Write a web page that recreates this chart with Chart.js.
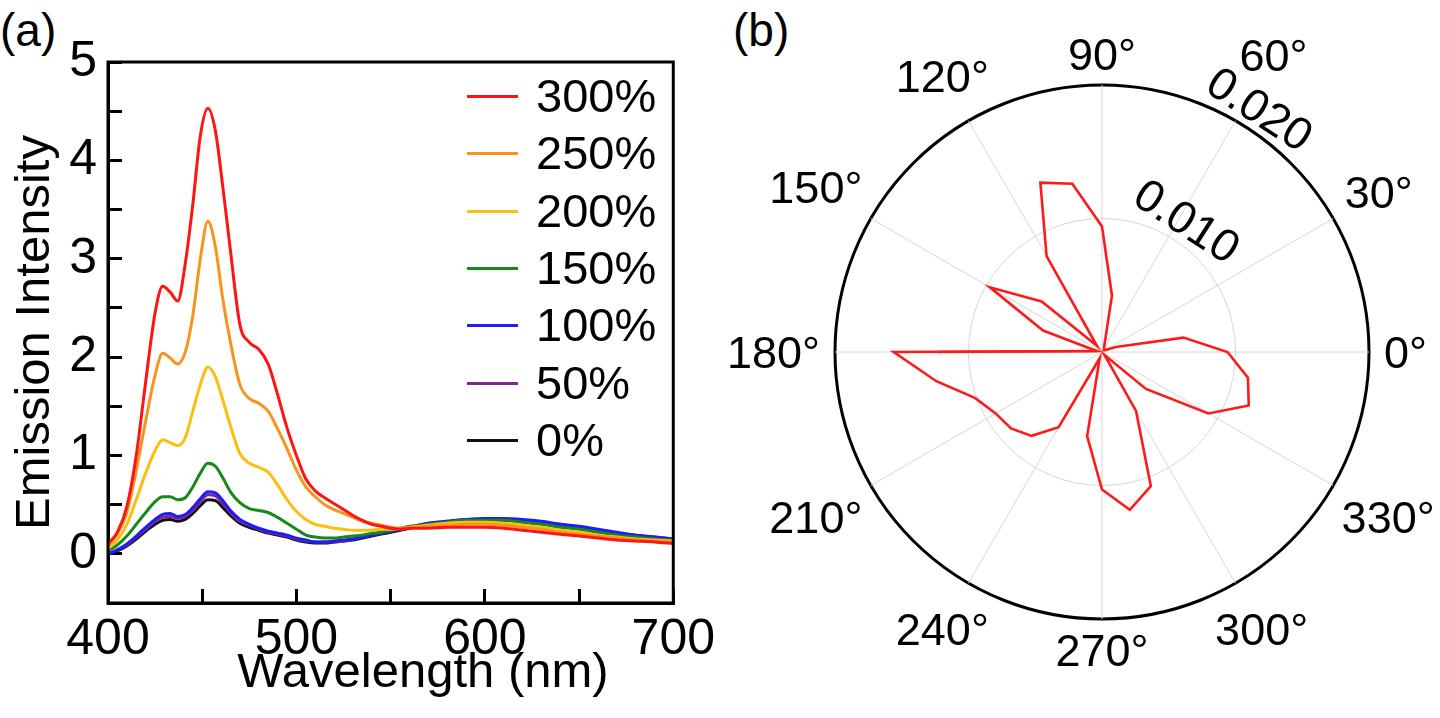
<!DOCTYPE html>
<html>
<head>
<meta charset="utf-8">
<script src="https://cdn.jsdelivr.net/npm/chart.js@4.4.0/dist/chart.umd.min.js"></script>
<style>
    html, body { margin: 0; padding: 0; background: #fff; overflow: hidden; }
    body { width: 1440px; height: 718px; position: relative; font-family: "Liberation Sans", Arial, Helvetica, sans-serif; color: #000; }
    canvas { position: absolute; top: 0; }
    #spectraChart { left: 0; }
    #polarChart { left: 720px; }
    .panel-tag { position: absolute; top: 7px; font-size: 46px; line-height: 46px; }
    #xTitle { position: absolute; left: 173px; width: 500px; top: 641px; text-align: center; font-size: 49px; line-height: 59px; white-space: nowrap; }
    .legend-row { position: absolute; left: 467px; height: 50px; line-height: 50px; font-size: 47px; white-space: nowrap; }
    .legend-row span.swatch { position: absolute; left: 0; top: 24px; width: 51px; height: 3px; }
    .legend-row span.text { position: absolute; left: 69px; top: 0; }
</style>
</head>
<body>
<div class="panel-tag" style="left:0px">(a)</div>
<div class="panel-tag" style="left:733px">(b)</div>
<canvas id="spectraChart" width="736" height="718"></canvas>
<canvas id="polarChart" width="720" height="718"></canvas>
<div id="xTitle">Wavelength (nm)</div>
<div id="legendBox"></div>
<script>
// ---- panel (a): emission spectra ----
var wavelengths = [400, 405, 410, 415, 420, 425,
    429, 433, 437, 441, 445, 449, 453, 457, 461, 465,
    470, 475, 480, 485, 490, 495, 500, 505, 510, 515, 520, 525, 530, 535, 540, 545, 550, 555, 560,
    570, 580, 590, 600, 610, 620, 630, 640, 650, 660, 670, 680, 690, 700];

var intensity300 = [0.10, 0.22, 0.48, 1.00, 1.75, 2.45,
    2.72, 2.66, 2.57, 2.95, 3.55, 4.25, 4.53, 4.30, 3.72, 3.08,
    2.33, 2.15, 2.08, 1.93, 1.62, 1.28, 1.00, 0.76, 0.64, 0.57, 0.51, 0.45, 0.39, 0.34, 0.30, 0.28, 0.26, 0.25, 0.26,
    0.26, 0.27, 0.27, 0.27, 0.26, 0.24, 0.22, 0.20, 0.18, 0.16, 0.14, 0.13, 0.12, 0.105];
var intensity250 = [0.08, 0.20, 0.42, 0.85, 1.35, 1.82,
    2.04, 1.99, 1.93, 2.05, 2.42, 3.00, 3.38, 3.12, 2.58, 2.15,
    1.72, 1.58, 1.53, 1.45, 1.27, 1.07, 0.85, 0.68, 0.58, 0.50, 0.45, 0.41, 0.37, 0.33, 0.31, 0.29, 0.27, 0.26, 0.27,
    0.28, 0.29, 0.30, 0.30, 0.29, 0.27, 0.25, 0.22, 0.20, 0.18, 0.16, 0.14, 0.13, 0.12];
var intensity200 = [0.05, 0.14, 0.30, 0.55, 0.82, 1.05,
    1.16, 1.13, 1.10, 1.18, 1.45, 1.72, 1.90, 1.80, 1.56, 1.30,
    1.02, 0.92, 0.88, 0.83, 0.70, 0.55, 0.43, 0.35, 0.30, 0.28, 0.26, 0.25, 0.24, 0.24, 0.24, 0.25, 0.25, 0.26, 0.27,
    0.29, 0.31, 0.32, 0.32, 0.31, 0.29, 0.27, 0.24, 0.22, 0.19, 0.17, 0.15, 0.14, 0.13];
var intensity150 = [0.03, 0.09, 0.18, 0.30, 0.42, 0.53,
    0.58, 0.58, 0.55, 0.57, 0.68, 0.82, 0.92, 0.89, 0.77, 0.63,
    0.52, 0.46, 0.44, 0.42, 0.37, 0.31, 0.25, 0.19, 0.17, 0.16, 0.16, 0.17, 0.18, 0.19, 0.21, 0.22, 0.24, 0.26, 0.28,
    0.30, 0.32, 0.34, 0.34, 0.34, 0.32, 0.30, 0.27, 0.25, 0.22, 0.19, 0.17, 0.15, 0.14];
var intensity100 = [0.00, 0.04, 0.10, 0.18, 0.27, 0.35,
    0.40, 0.41, 0.38, 0.40, 0.47, 0.56, 0.63, 0.62, 0.54, 0.44,
    0.35, 0.30, 0.26, 0.23, 0.21, 0.19, 0.16, 0.14, 0.12, 0.12, 0.13, 0.14, 0.15, 0.17, 0.19, 0.21, 0.23, 0.25, 0.27,
    0.31, 0.33, 0.35, 0.36, 0.36, 0.35, 0.33, 0.30, 0.28, 0.25, 0.22, 0.19, 0.17, 0.15];
var intensity50 = [0.00, 0.04, 0.09, 0.17, 0.25, 0.33,
    0.37, 0.38, 0.36, 0.38, 0.44, 0.53, 0.60, 0.59, 0.51, 0.42,
    0.33, 0.29, 0.25, 0.22, 0.20, 0.18, 0.15, 0.13, 0.12, 0.12, 0.12, 0.13, 0.15, 0.17, 0.19, 0.21, 0.23, 0.25, 0.27,
    0.31, 0.33, 0.35, 0.35, 0.35, 0.34, 0.32, 0.30, 0.27, 0.24, 0.21, 0.19, 0.17, 0.15];
var intensity0 = [0.00, 0.03, 0.08, 0.15, 0.23, 0.30,
    0.34, 0.35, 0.33, 0.35, 0.41, 0.49, 0.55, 0.54, 0.47, 0.39,
    0.31, 0.27, 0.24, 0.21, 0.19, 0.17, 0.14, 0.12, 0.11, 0.11, 0.12, 0.13, 0.14, 0.16, 0.18, 0.20, 0.22, 0.24, 0.26,
    0.30, 0.32, 0.34, 0.34, 0.34, 0.33, 0.31, 0.29, 0.26, 0.23, 0.21, 0.18, 0.16, 0.14];

var seriesLabels = ['300%', '250%', '200%', '150%', '100%', '50%', '0%'];
var seriesValues = [intensity300, intensity250, intensity200, intensity150, intensity100, intensity50, intensity0];
var seriesColors = ['#ff1414', '#f7941d', '#fbbf10', '#168a16', '#1c1cff', '#7b2a8c', '#111111'];

// ---- panel (b): polar plot ----
var polarAngles = [0, 10, 20, 30, 40, 50, 60, 70, 80, 90, 100, 110, 120, 130, 140, 150, 160, 170,
    180, 190, 200, 210, 220, 230, 240, 250, 260, 270, 280, 290, 300, 310, 320, 330, 340, 350];
var polarValues = [0.0094, 0.0062, 0.0011, 0.0003, 0.0002, 0.0002, 0.0003, 0.0005, 0.0043,
    0.0094, 0.0128, 0.0135, 0.0083, 0.0006, 0.0059, 0.0097, 0.0047, 0.0004,
    0.0156, 0.0126, 0.0101, 0.0092, 0.0089, 0.0082, 0.0065, 0.0005, 0.0064,
    0.0103, 0.0120, 0.0107, 0.0051, 0.0003, 0.0043, 0.0092, 0.0117, 0.0111];
// the trace starts at 180 deg and comes back to 180 deg with another value
var polarEndAngle = 180;
var polarEndValue = 0.0123;
var polarTicks = [0, 0.01, 0.02];

var fontFamily = '"Liberation Sans", Arial, Helvetica, sans-serif';
Chart.defaults.font.family = fontFamily;
Chart.defaults.color = '#000';

// legend (drawn as html, inside the plot)
var legendBox = document.getElementById('legendBox');
seriesLabels.forEach(function (lab, i) {
    var row = document.createElement('div');
    row.className = 'legend-row';
    row.style.top = (71 + i * 57.3) + 'px';
    row.innerHTML = '<span class="swatch" style="background:' + seriesColors[i] + '"></span><span class="text">' + lab + '</span>';
    legendBox.appendChild(row);
});

var frameBox = {
    id: 'frameBox',
    afterDatasetsDraw: function (chart) {
        var a = chart.chartArea;
        var ctx = chart.ctx;
        ctx.save();
        ctx.strokeStyle = '#000';
        ctx.lineWidth = 3;
        ctx.strokeRect(a.left, a.top, a.right - a.left, a.bottom - a.top);
        ctx.restore();
    }
};

var spectraDatasets = seriesLabels.map(function (lab, i) {
    return {
        label: lab,
        data: wavelengths.map(function (w, j) { return { x: w, y: seriesValues[i][j] }; }),
        borderColor: seriesColors[i],
        borderWidth: 3,
        pointRadius: 0,
        fill: false,
        cubicInterpolationMode: 'monotone'
    };
});

new Chart(document.getElementById('spectraChart'), {
    type: 'line',
    data: { datasets: spectraDatasets },
    options: {
        responsive: false,
        animation: false,
        layout: { padding: { top: 62, right: 0, bottom: 0, left: 0 } },
        plugins: { legend: { display: false }, tooltip: { enabled: false } },
        scales: {
            x: {
                type: 'linear',
                min: 400,
                max: 700,
                ticks: {
                    stepSize: 50,
                    autoSkip: false,
                    maxRotation: 0,
                    padding: 21,
                    font: { size: 50 },
                    callback: function (v) { return v % 100 === 0 ? String(v) : ''; }
                },
                grid: { drawOnChartArea: false, tickLength: -14, lineWidth: 3, color: '#000' },
                border: { display: true, color: '#000', width: 3 },
                title: { display: false },
                afterFit: function (s) { s.height = 115; }
            },
            y: {
                min: -0.5,
                max: 5,
                ticks: {
                    stepSize: 0.5,
                    autoSkip: false,
                    padding: 25,
                    font: { size: 50 },
                    callback: function (v) { return Math.abs(v - Math.round(v)) < 1e-6 ? String(Math.round(v)) : ''; }
                },
                grid: { drawOnChartArea: false, tickLength: -14, lineWidth: 3, color: '#000' },
                border: { display: true, color: '#000', width: 3 },
                title: { display: true, text: 'Emission Intensity', font: { size: 49 }, padding: { top: 6, bottom: 0 } },
                afterFit: function (s) { s.width = 108; }
            }
        }
    },
    plugins: [frameBox]
});

// radar scale goes clockwise from the top, so walk the angles backwards from 0 deg
var radarAngles = polarAngles.map(function (a, k) { return (360 - k * 10) % 360; });
var radarMain = radarAngles.map(function (a) { return polarValues[polarAngles.indexOf(a)]; });
var radarEnd = radarAngles.map(function (a) {
    if (a === polarEndAngle) return polarEndValue;
    if (a === polarEndAngle - 10) return polarValues[polarAngles.indexOf(a)];
    return null;
});

// radial tick values, written along the 57 deg direction just outside their circle
var radialTickText = {
    id: 'radialTickText',
    afterDatasetsDraw: function (chart) {
        var r = chart.scales.r;
        var ctx = chart.ctx;
        var ang = 57 * Math.PI / 180;
        ctx.save();
        ctx.font = '46px ' + fontFamily;
        ctx.fillStyle = '#000';
        ctx.textAlign = 'center';
        ctx.textBaseline = 'middle';
        r.ticks.forEach(function (t) {
            if (t.value <= 0) return;
            var d = r.getDistanceFromCenterForValue(t.value) + 20;
            ctx.save();
            ctx.translate(r.xCenter + d * Math.cos(ang), r.yCenter - d * Math.sin(ang));
            ctx.rotate(Math.PI / 2 - ang);
            ctx.fillText(t.value.toFixed(3), 0, 0);
            ctx.restore();
        });
        ctx.restore();
    }
};

// angle labels centred on their ray, every 30 deg
var radialAngleText = {
    id: 'radialAngleText',
    afterDraw: function (chart) {
        var r = chart.scales.r;
        var ctx = chart.ctx;
        var size = 45;
        var h = size * 0.72;
        ctx.save();
        ctx.font = size + 'px ' + fontFamily;
        ctx.fillStyle = '#000';
        ctx.textAlign = 'center';
        ctx.textBaseline = 'alphabetic';
        chart.data.labels.forEach(function (lab, i) {
            var deg = Number(lab);
            if (deg % 30 !== 0) return;
            var text = lab + '\u00b0';
            var w = ctx.measureText(text).width;
            var t = deg * Math.PI / 180;
            var gap = deg === 60 ? 45 : 15;
            var d = r.drawingArea + gap + Math.abs(Math.cos(t)) * w / 2 + Math.abs(Math.sin(t)) * h / 2;
            var p = r.getPointPosition(i, d);
            ctx.fillText(text, p.x, p.y + h / 2);
        });
        ctx.restore();
    }
};

function isOuter(v) { return Math.abs(v - polarTicks[polarTicks.length - 1]) < 1e-9; }

new Chart(document.getElementById('polarChart'), {
    type: 'radar',
    data: {
        labels: radarAngles.map(String),
        datasets: [
            {
                data: radarMain,
                borderColor: '#ff1a1a',
                borderWidth: 2.6,
                pointRadius: 0,
                fill: false,
                spanGaps: false,
                segment: {
                    borderColor: function (ctx) {
                        var a0 = radarAngles[ctx.p0DataIndex], a1 = radarAngles[ctx.p1DataIndex];
                        return (a0 === polarEndAngle && a1 === polarEndAngle - 10) ? 'rgba(0,0,0,0)' : undefined;
                    }
                }
            },
            {
                data: radarEnd,
                borderColor: '#ff1a1a',
                borderWidth: 2.6,
                pointRadius: 0,
                fill: false,
                spanGaps: false
            }
        ]
    },
    options: {
        responsive: false,
        animation: false,
        layout: { padding: { top: 85, bottom: 99, left: 115, right: 71 } },
        plugins: { legend: { display: false }, tooltip: { enabled: false } },
        scales: {
            r: {
                min: polarTicks[0],
                max: polarTicks[polarTicks.length - 1],
                startAngle: 90,
                ticks: { stepSize: polarTicks[1] - polarTicks[0], display: false },
                grid: {
                    circular: true,
                    color: function (ctx) { return isOuter(ctx.tick.value) ? '#000' : '#d6d6d6'; },
                    lineWidth: function (ctx) { return isOuter(ctx.tick.value) ? 3 : 1; }
                },
                angleLines: {
                    lineWidth: 1,
                    color: function (ctx) { return radarAngles[ctx.index] % 30 === 0 ? '#d6d6d6' : 'rgba(0,0,0,0)'; }
                },
                pointLabels: { display: false }
            }
        }
    },
    plugins: [radialTickText, radialAngleText]
});
</script>
</body>
</html>
